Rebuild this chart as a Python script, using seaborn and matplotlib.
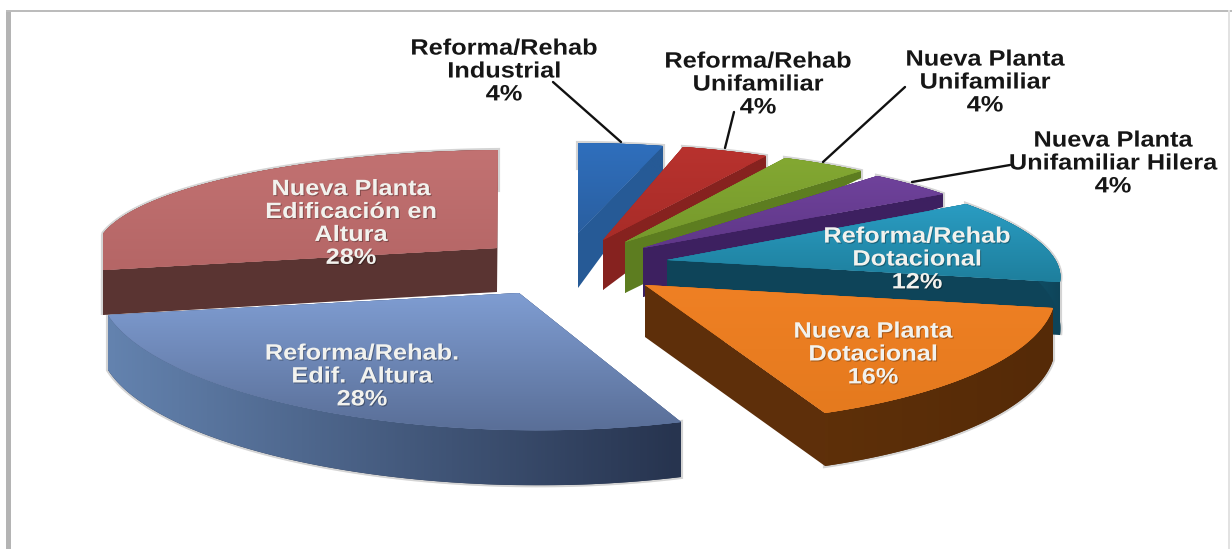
import numpy as np
import seaborn as sns
import matplotlib.pyplot as plt
from matplotlib.patches import Polygon, Rectangle
from matplotlib.patheffects import AbstractPathEffect
from matplotlib.transforms import Affine2D

# Datos del grafico
tipos = ["Reforma/Rehab\nIndustrial", "Reforma/Rehab\nUnifamiliar", "Nueva Planta\nUnifamiliar",
         "Nueva Planta\nUnifamiliar Hilera", "Reforma/Rehab\nDotacional", "Nueva Planta\nDotacional",
         "Reforma/Rehab.\nEdif.  Altura", "Nueva Planta\nEdificación en\nAltura"]
porcentajes = [4, 4, 4, 4, 12, 16, 28, 28]

# Colores: cara superior (arriba, abajo), cara de corte, pared curva (izq, der)
top_a = ["#2f6fbd", "#b8322e", "#83a832", "#6f429b", "#2a9cc2", "#ef8024", "#7f9dd2", "#c27272"]
top_b = ["#2a5fa0", "#a82c28", "#76992c", "#5f3788", "#1e7f9d", "#e57a1e", "#5a6f98", "#b56666"]
cut_col = ["#265a96", "#86221f", "#5d7d20", "#3d2060", "#0e4459", "#5e2f0a", "#2a3855", "#5a3432"]
wall_a = ["#265a96", "#86221f", "#5d7d20", "#3d2060", "#176a86", "#5e3009", "#6382ae", "#5a3432"]
wall_b = ["#265a96", "#86221f", "#5d7d20", "#3d2060", "#0e4459", "#552a07", "#27344f", "#5a3432"]

# Esquinas de cada porcion en pixeles (vertice, borde inicial, borde final) y grosor
vertice = [(578, 233), (603, 240), (625, 242), (643, 248), (667, 260), (645, 285), (519, 293), (497, 248)]
inicio = [(578, 143), (683, 147), (785, 158), (877, 176), (966, 204), (1053, 308), (681, 422), (103, 270)]
final = [(663, 146), (766, 156), (861, 171), (943, 194), (1060, 282), (825, 413), (108, 315), (498, 150)]
grosor_v = [55, 50, 51, 49, 52, 52, 55, 44]
grosor_i = [25, 18, 15, 15, 30, 52, 55, 45]
grosor_f = [26, 12, 7, 13, 53, 53, 55, 40]
x_minimo = [0, 0, 0, 0, 0, 0, 0, 103]

# Etiquetas: posicion y lineas guia
etq_x = [504, 758, 985, 1113, 917, 873, 362, 351]
etq_y = [72, 85, 83, 164, 260, 355, 377, 224]
etq_blanca = [False, False, False, False, True, True, True, True]
guia_x = [(553, 621), (734, 725), (905, 823), (1010, 912)]
guia_y = [(82, 142), (112, 148), (87, 162), (165, 182)]


class Estirar(AbstractPathEffect):
    # el texto original esta ensanchado horizontalmente
    def __init__(self, sx, sombra=False):
        super().__init__()
        self.sx = sx
        self.sombra = sombra

    def draw_path(self, renderer, gc, tpath, affine, rgbFace=None):
        ancho = tpath.get_extents().x1
        t = Affine2D().translate(-ancho / 2, 0).scale(self.sx, 1).translate(ancho / 2, 0)
        if self.sombra:
            gc0 = renderer.new_gc()
            gc0.copy_properties(gc)
            gc0.set_alpha(0.3)
            renderer.draw_path(gc0, tpath, t + affine + Affine2D().translate(1, -1), (0, 0, 0))
            gc0.restore()
        renderer.draw_path(gc, tpath, t + affine, rgbFace)


def matriz(a, p1, th1, p2, th2):
    # afin que lleva el circulo unidad al sector en perspectiva
    u = np.array([[np.cos(np.radians(th1)), np.cos(np.radians(th2))],
                  [np.sin(np.radians(th1)), np.sin(np.radians(th2))]])
    v = np.array([[p1[0] - a[0], p2[0] - a[0]], [p1[1] - a[1], p2[1] - a[1]]])
    m = v @ np.linalg.inv(u)
    return np.array([[m[0, 0], m[0, 1], a[0]], [m[1, 0], m[1, 1], a[1]], [0, 0, 1]])


def degradado(ax, pts, c1, c2, horizontal, z):
    cmap = sns.blend_palette([c1, c2], as_cmap=True)
    parche = Polygon(pts, closed=True, fc=c2, ec="none", zorder=z)
    ax.add_patch(parche)
    g = np.linspace(0, 1, 64).reshape(1, -1) if horizontal else np.linspace(0, 1, 64).reshape(-1, 1)
    pts = np.asarray(pts)
    im = ax.imshow(g, cmap=cmap, aspect="auto", interpolation="bilinear", zorder=z,
                   extent=(pts[:, 0].min(), pts[:, 0].max(), pts[:, 1].max(), pts[:, 1].min()))
    im.set_clip_path(parche)


sns.set_theme(style="white")
fig, ax = plt.subplots(figsize=(12.32, 5.49), dpi=100)
fig.subplots_adjust(0, 0, 1, 1)

wedges, _ = ax.pie(porcentajes, colors=top_a, startangle=90, counterclock=False,
                   wedgeprops={"linewidth": 0})

# de atras hacia adelante
orden = [0, 1, 2, 3, 7, 4, 6, 5]
for rango, i in enumerate(orden):
    w = wedges[i]
    a, p1, p2 = vertice[i], inicio[i], final[i]
    M = matriz(a, p1, w.theta2, p2, w.theta1)
    a_b = (a[0], a[1] + grosor_v[i])
    p1_b = (p1[0], p1[1] + grosor_i[i])
    p2_b = (p2[0], p2[1] + grosor_f[i])
    M_b = matriz(a_b, p1_b, w.theta2, p2_b, w.theta1)

    z = 10 + rango * 5
    ang = np.radians(np.linspace(w.theta1, w.theta2, 80))
    unidad = np.column_stack([np.cos(ang), np.sin(ang), np.ones_like(ang)])
    arco = (M @ unidad.T).T[:, :2]
    arco_b = (M_b @ unidad.T).T[:, :2]
    arco[:, 0] = np.maximum(arco[:, 0], x_minimo[i])
    arco_b[:, 0] = np.maximum(arco_b[:, 0], x_minimo[i])

    # sombra suave alrededor de la porcion
    sombra = np.vstack([arco, arco_b[::-1]])
    ax.add_patch(Polygon(sombra, fc="none", ec="#d4d4d4", lw=3, zorder=4))

    # caras de corte
    ax.add_patch(Polygon([a, p1, p1_b, a_b], fc=cut_col[i], ec="none", zorder=z))
    ax.add_patch(Polygon([a, p2, p2_b, a_b], fc=cut_col[i], ec="none", zorder=z))
    # pared curva
    degradado(ax, np.vstack([arco, arco_b[::-1]]), wall_a[i], wall_b[i], True, z + 1)

    # cara superior
    w.set_transform(Affine2D(M) + ax.transData)
    w.set_zorder(z + 2)
    w.set_clip_on(True)
    w.set_clip_path(Rectangle((x_minimo[i], 0), 1232, 549, transform=ax.transData))
    degradado(ax, np.vstack([[a], arco]), top_a[i], top_b[i], False, z + 3)

for xs, ys in zip(guia_x, guia_y):
    ax.plot(xs, ys, color="#111111", lw=1.7, zorder=5, solid_capstyle="round")

# etiquetas
for i in range(len(tipos)):
    txt = f"{tipos[i]}\n{porcentajes[i]}%"
    col = "#f2f2ee" if etq_blanca[i] else "#161616"
    ax.text(etq_x[i], etq_y[i], txt, ha="center", va="center", ma="center", color=col,
            family="Liberation Sans", weight="bold", fontsize=16, linespacing=1.12,
            path_effects=[Estirar(1.14, etq_blanca[i])], zorder=80)

# marco gris de la imagen
ax.add_patch(Rectangle((6, 10), 5, 539, fc="#b4b4b4", ec="none", zorder=1))
ax.add_patch(Rectangle((6, 10), 1226, 2, fc="#bcbcbc", ec="none", zorder=1))
ax.add_patch(Rectangle((1228, 10), 2, 539, fc="#e2e2e2", ec="none", zorder=1))

ax.set_aspect("auto")
ax.set_xlim(0, 1232)
ax.set_ylim(549, 0)
ax.axis("off")

fig.savefig("out.png", dpi=100)
